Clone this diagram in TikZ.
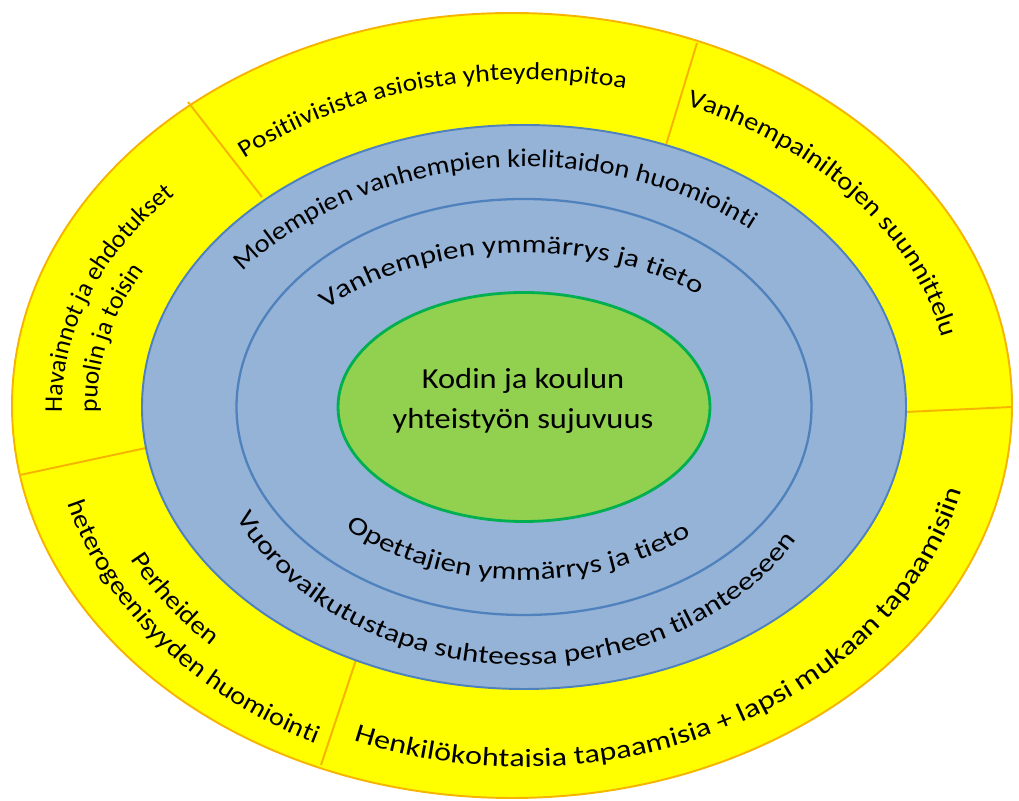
\documentclass[tikz,border=0pt]{standalone}
\usepackage{fontspec}
\usepackage{tikz}
\usetikzlibrary{calc,decorations.text}
\setmainfont{Carlito}
\newfontfamily\ringfont[FakeStretch=1.12]{Carlito}
\newfontfamily\widefont[FakeStretch=1.22]{Carlito}
\newcommand\ringsize{\ringfont\fontsize{14.5}{17}\selectfont}
\newcommand\smallsize{\ringfont\fontsize{14}{17}\selectfont}
\newcommand\widesize{\widefont\fontsize{14.5}{17}\selectfont}
\newcommand\bigsize{\widefont\fontsize{15}{17}\selectfont}
\newcommand\narrowsize{\rmfamily\fontsize{14.5}{17}\selectfont}
\newcommand\coresize{\ringfont\fontsize{16.5}{22.7}\selectfont}

\definecolor{ringyellow}{HTML}{FFFF00}
\definecolor{ringorange}{HTML}{F6B400}
\definecolor{midblue}{HTML}{95B3D7}
\definecolor{lineblue}{HTML}{4F81BD}
\definecolor{coregreen}{HTML}{92D050}
\definecolor{coreline}{HTML}{00B050}

\begin{document}
\begin{tikzpicture}[x=0.02cm,y=0.02cm,
  ringtext/.style 2 args={decorate,decoration={text along path,text align=center,text={|#1|#2}}}]
\useasboundingbox (0,0) rectangle (1019,801);
\coordinate (co) at (512,395.5);
\coordinate (cb) at (524,394);
\coordinate (cm) at (524,354);

\draw [line width=1.1pt, ringorange, fill=ringyellow] (co) ellipse [x radius=500, y radius=392.5];
\foreach \xa/\ya/\xb/\yb in {262/604/188/699, 666/656/697/758, 906/389/1012/394, 146/353/20/326, 356/141/321/36}
	\draw [line width=1.1pt, ringorange] (\xa,\ya) -- (\xb,\yb);
\draw [line width=1.1pt, lineblue, fill=midblue] (cb) ellipse [x radius=382, y radius=282];
\draw [line width=1.3pt, lineblue] (cb) ellipse [x radius=287.5, y radius=208];
\draw [line width=1.6pt, coreline, fill=coregreen] (cb) ellipse [x radius=186, y radius=114.5];
\node (core) [align=center, font=\coresize] at (523,400) {Kodin ja koulun\\yhteistyön sujuvuus};

\path [ringtext={\ringsize}{Molempien vanhempien kielitaidon huomiointi}] ($(cm)+(177:360 and 280)$) arc [start angle=177, end angle=17, x radius=360, y radius=280];
\path [ringtext={\widesize}{Vanhempien ymmärrys ja tieto}] ($(cb)+(175:255 and 154)$) arc [start angle=175, end angle=15, x radius=255, y radius=154];
\path [ringtext={\widesize}{Opettajien ymmärrys ja tieto}] ($(cb)+(188:250 and 173)$) arc [start angle=188, end angle=348, x radius=250, y radius=173];
\path [ringtext={\widesize}{Vuorovaikutustapa suhteessa perheen tilanteeseen}] ($(cb)+(187:318 and 258)$) arc [start angle=187, end angle=347, x radius=318, y radius=258];

\path [ringtext={\smallsize}{Positiivisista asioista yhteydenpitoa}] ($(cb)+(186.5:430 and 327)$) arc [start angle=186.5, end angle=26.5, x radius=430, y radius=327];
\path [ringtext={\ringsize}{Vanhempainiltojen suunnittelu}] ($(cb)+(96:428 and 326)$) arc [start angle=96, end angle=-24, x radius=428, y radius=326];
\path [ringtext={\narrowsize}{Havainnot ja ehdotukset}, decoration={text align=left}] ($(cb)+(181:462 and 324)$) arc [start angle=181, end angle=95, x radius=462, y radius=324];
\path [ringtext={\narrowsize}{puolin ja toisin}, decoration={text align=left}] ($(cb)+(181:427 and 298)$) arc [start angle=181, end angle=95, x radius=427, y radius=298];
\path [ringtext={\ringsize}{Perheiden}] ($(cb)+(165:440 and 340)$) arc [start angle=165, end angle=259, x radius=440, y radius=340];
\path [ringtext={\ringsize}{heterogeenisyyden huomiointi}] ($(cb)+(170:472 and 375)$) arc [start angle=170, end angle=264, x radius=472, y radius=375];
\path [ringtext={\bigsize}{Henkilökohtaisia tapaamisia + lapsi mukaan tapaamisiin}] ($(cb)+(227:450 and 360)$) arc [start angle=227, end angle=371, x radius=450, y radius=360];
\end{tikzpicture}
\end{document}
